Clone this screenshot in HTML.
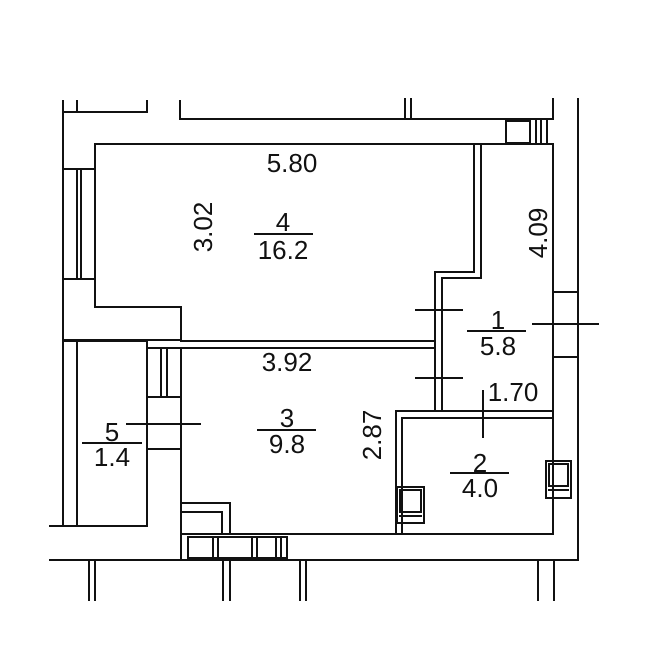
<!DOCTYPE html>
<html><head><meta charset="utf-8"><style>
html,body{margin:0;padding:0;background:#fff;}
svg{display:block;}
text{font-family:"Liberation Sans",sans-serif;font-size:26px;fill:#111;text-anchor:middle;}
</style></head><body>
<svg width="661" height="670" viewBox="0 0 661 670" xmlns="http://www.w3.org/2000/svg">
<g stroke="#111" stroke-width="2" fill="none" stroke-linecap="square">
<path d="M63 101 V526"/>
<path d="M77 101 V112"/>
<path d="M63 112 H147 V101"/>
<path d="M180 101 V119 H553 V99"/>
<path d="M405 99 V119 M411 99 V119"/>
<path d="M578 99 V560 H50"/>
<rect x="506" y="121" width="24" height="22"/>
<path d="M530 121 V143 M536 121 V143 M541 121 V143 M547 121 V143"/>
<path d="M95 144 H553 V534"/>
<path d="M95 144 V169 M95 279 V307 H181 V340"/>
<path d="M63 169 H95 M63 279 H95 M77 169 V279 M81 169 V279 M95 169 V279"/>
<path d="M63 340 H181"/>
<path d="M474 144 V272 H435 V411"/>
<path d="M481 144 V278 H442 V411"/>
<path d="M181 341 H435 M181 348 H435"/>
<path d="M77 341 V526 M63 341 H147 V526 H50"/>
<path d="M147 348 H181 M161 348 V397 M167 348 V397 M147 397 H181 M147 449 H181"/>
<path d="M181 348 V559"/>
<path d="M127 424 H200"/>
<path d="M553 292 H578 M553 357 H578"/>
<path d="M396 411 H553 M402 418 H553"/>
<path d="M396 411 V534 M402 418 V534"/>
<path d="M181 534 H553"/>
<path d="M483 391 V437"/>
<path d="M416 310 H462 M416 378 H462 M533 324 H598"/>
<path d="M181 503 H230 V534 M181 512 H222 V534"/>
<rect x="188" y="537" width="99" height="21"/>
<path d="M213 537 V558 M218 537 V558 M252 537 V558 M257 537 V558 M276 537 V558 M281 537 V558"/>
<rect x="546" y="461" width="25" height="37"/>
<rect x="549" y="464" width="19" height="22"/>
<path d="M549 490 H568"/>
<rect x="397" y="487" width="27" height="36"/>
<rect x="400" y="490" width="21" height="22"/>
<path d="M400 516 H421"/>
<path d="M89 560 V600 M95 560 V600 M223 560 V600 M230 560 V600 M300 560 V600 M306 560 V600 M538 560 V600 M554 560 V600"/>
<path d="M255 234 H312 M258 430 H315 M83 443 H141 M468 331 H525 M451 473 H508"/>
</g>
<text x="292" y="172">5.80</text>
<text x="0" y="0" transform="translate(212,227) rotate(-90)">3.02</text>
<text x="283" y="231">4</text>
<text x="283" y="259">16.2</text>
<text x="0" y="0" transform="translate(547,233) rotate(-90)">4.09</text>
<text x="498" y="329">1</text>
<text x="498" y="355">5.8</text>
<text x="287" y="371">3.92</text>
<text x="287" y="427">3</text>
<text x="287" y="453">9.8</text>
<text x="112" y="441">5</text>
<text x="112" y="466">1.4</text>
<text x="513" y="401">1.70</text>
<text x="0" y="0" transform="translate(381,435) rotate(-90)">2.87</text>
<text x="480" y="472">2</text>
<text x="480" y="497">4.0</text>
</svg>
</body></html>
